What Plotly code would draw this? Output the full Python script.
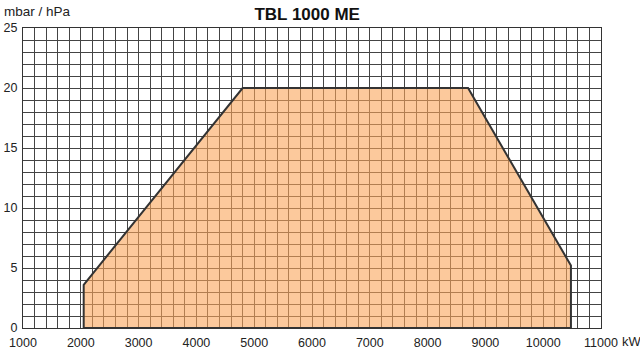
import plotly.graph_objects as go

title = "TBL 1000 ME"
power_kw = [2050, 2050, 4800, 8700, 10480, 10480, 2050]
pressure_mbar = [0, 3.6, 20, 20, 5.2, 0, 0]
x_ticks = [1000, 2000, 3000, 4000, 5000, 6000, 7000, 8000, 9000, 10000, 11000]
y_ticks = [0, 5, 10, 15, 20, 25]

FONT = "Liberation Sans, Arial, sans-serif"

fig = go.Figure()
fig.add_trace(go.Scatter(
    x=power_kw, y=pressure_mbar, mode="lines", fill="toself",
    fillcolor="rgba(250,165,90,0.6)",
    line=dict(color="#333333", width=2),
    hoverinfo="skip", showlegend=False,
))

fig.update_layout(
    width=640, height=352,
    margin=dict(l=23, r=39, t=28, b=24, autoexpand=False),
    paper_bgcolor="white", plot_bgcolor="white",
    font=dict(family=FONT, size=12.5, color="#222222"),
    title=dict(text="<b>" + title + "</b>", x=0.48, xanchor="center", y=0.96, yanchor="middle",
               font=dict(family=FONT, size=17, color="#111111")),
    xaxis=dict(range=[1000, 11000], tickvals=x_ticks, ticktext=[str(v) for v in x_ticks],
               showgrid=True, gridcolor="#444444", gridwidth=1, automargin=False,
               showline=True, linecolor="#333333", mirror=True, zeroline=False,
               ticks="", ticklabelstandoff=3),
    yaxis=dict(range=[0, 25], tickvals=y_ticks, showgrid=True, gridcolor="#444444", gridwidth=1,
               showline=True, linecolor="#333333", mirror=True, zeroline=False, automargin=False,
               ticks="", ticklabelstandoff=2),
    annotations=[
        dict(text="mbar / hPa", xref="paper", yref="paper", x=-0.036, y=1.0, xanchor="left",
             yanchor="bottom", yshift=7, showarrow=False, font=dict(size=13.5)),
        dict(text="kW", xref="paper", yref="paper", x=1.0, y=0, xanchor="left", yanchor="top",
             xshift=19, yshift=-4, showarrow=False, font=dict(size=13)),
    ],
)
fig.update_xaxes(minor=dict(dtick=200, showgrid=True, gridcolor="#444444", gridwidth=1))
fig.update_yaxes(minor=dict(dtick=1, showgrid=True, gridcolor="#444444", gridwidth=1))

fig.write_html("out.html")
